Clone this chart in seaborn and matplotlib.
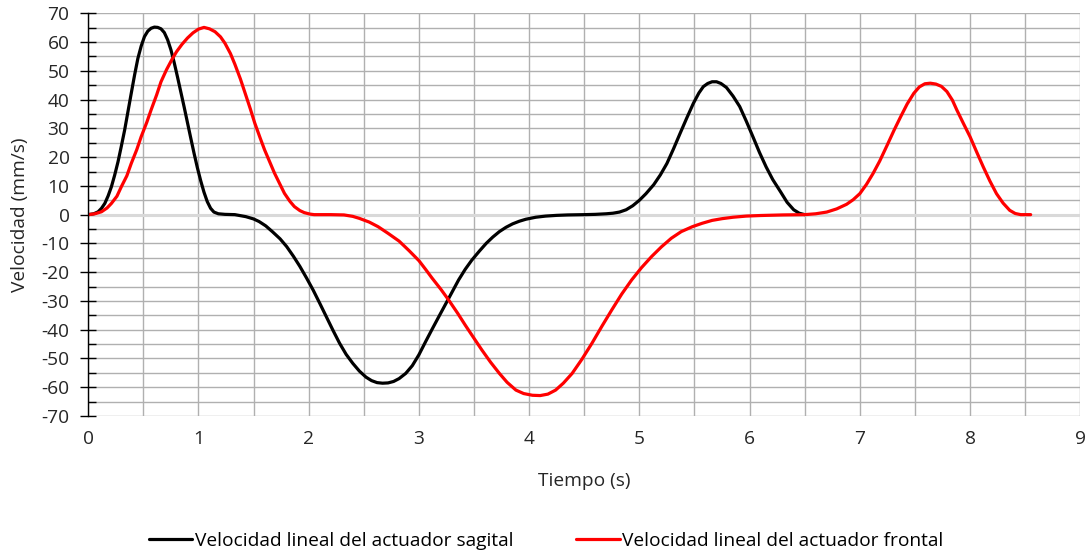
import numpy as np
import pandas as pd
import matplotlib
matplotlib.use("Agg")
import matplotlib.pyplot as plt
import seaborn as sns
from matplotlib.lines import Line2D
from matplotlib.ticker import MultipleLocator

# velocidad lineal del actuador sagital
t_sagital = [0, 0.05, 0.09, 0.12, 0.15, 0.18, 0.21, 0.24, 0.27, 0.30, 0.33, 0.36, 0.39,
             0.42, 0.45, 0.48, 0.51, 0.54, 0.57, 0.60, 0.63, 0.66, 0.69, 0.72, 0.75, 0.78,
             0.81, 0.84, 0.87, 0.90, 0.93, 0.96, 0.99, 1.02, 1.05, 1.08, 1.11, 1.14, 1.18,
             1.24, 1.33, 1.43, 1.50, 1.55, 1.61, 1.67, 1.74, 1.80, 1.86, 1.92, 1.98, 2.04,
             2.10, 2.16, 2.22, 2.28, 2.34, 2.40, 2.46, 2.52, 2.57, 2.62, 2.67, 2.72, 2.77,
             2.82, 2.88, 2.94, 3.00, 3.06, 3.12, 3.18, 3.27, 3.36, 3.42, 3.48, 3.55, 3.61,
             3.67, 3.73, 3.79, 3.85, 3.91, 3.97, 4.06, 4.15, 4.25, 4.35, 4.50, 4.60, 4.70,
             4.76, 4.82, 4.88, 4.94, 5.00, 5.06, 5.13, 5.19, 5.25, 5.31, 5.37, 5.43, 5.49,
             5.54, 5.58, 5.62, 5.66, 5.70, 5.74, 5.79, 5.85, 5.91, 5.97, 6.03, 6.09, 6.15,
             6.21, 6.28, 6.34, 6.40, 6.45, 6.50]
v_sagital = [0, 0.3, 1, 2.2, 3.9, 6.5, 9.7, 13.8, 18.4, 23.8, 29.4, 35.8, 42.2,
             48.5, 54.3, 58.6, 61.9, 63.8, 64.8, 65.2, 65.1, 64.6, 63.3, 60.8, 57.3, 52.8,
             47.8, 42.6, 37.4, 32, 26.6, 21.3, 16.3, 11.8, 7.8, 4.5, 2.2, 0.9, 0.3,
             0.1, 0, -0.7, -1.5, -2.4, -3.9, -5.9, -8.4, -11.1, -14.4, -18, -22, -26.2,
             -30.8, -35.5, -40.2, -44.7, -48.6, -51.7, -54.4, -56.5, -57.7, -58.4, -58.6, -58.5, -58,
             -57, -55.2, -52.5, -48.7, -44.2, -39.8, -35.5, -29.1, -22.7, -19, -15.8, -12.6, -10,
             -7.8, -5.9, -4.4, -3.2, -2.3, -1.6, -0.9, -0.5, -0.25, -0.1, 0, 0.1, 0.3,
             0.5, 0.9, 1.7, 3.1, 5, 7.3, 10.4, 13.8, 17.8, 22.9, 28.3, 33.6, 38.7,
             42.3, 44.5, 45.6, 46.2, 46.2, 45.6, 44.2, 41.2, 37.6, 32.5, 27.1, 21.6, 16.6,
             12.2, 8, 4.3, 1.7, 0.5, 0]

# velocidad lineal del actuador frontal
t_frontal = [0, 0.06, 0.12, 0.17, 0.21, 0.26, 0.30, 0.35, 0.39, 0.44, 0.48, 0.53, 0.57,
             0.62, 0.66, 0.71, 0.76, 0.80, 0.85, 0.90, 0.95, 1.00, 1.05, 1.10, 1.15, 1.20,
             1.24, 1.29, 1.33, 1.38, 1.42, 1.47, 1.51, 1.56, 1.60, 1.65, 1.69, 1.74, 1.78,
             1.83, 1.87, 1.92, 1.96, 2.01, 2.05, 2.20, 2.32, 2.40, 2.46, 2.55, 2.63, 2.72,
             2.82, 2.91, 3.00, 3.06, 3.12, 3.20, 3.27, 3.35, 3.42, 3.50, 3.57, 3.65, 3.73,
             3.80, 3.88, 3.95, 4.03, 4.10, 4.17, 4.24, 4.31, 4.39, 4.48, 4.57, 4.66, 4.75,
             4.84, 4.93, 5.02, 5.11, 5.20, 5.29, 5.38, 5.48, 5.57, 5.66, 5.75, 5.85, 5.97,
             6.10, 6.30, 6.50, 6.60, 6.70, 6.79, 6.88, 6.94, 7.00, 7.06, 7.12, 7.18, 7.25,
             7.31, 7.37, 7.43, 7.49, 7.54, 7.59, 7.64, 7.69, 7.74, 7.79, 7.84, 7.88, 7.94,
             8.00, 8.06, 8.12, 8.18, 8.24, 8.30, 8.36, 8.41, 8.46, 8.55]
v_frontal = [0, 0.3, 1, 2.3, 3.9, 6.4, 9.7, 13.5, 17.8, 22.6, 27.1, 32, 36.4,
             41.6, 46.2, 50.4, 54, 56.6, 59.2, 61.4, 63.2, 64.5, 65.1, 64.6, 63.6, 61.8,
             59.6, 56, 52.3, 47.2, 42.6, 36.8, 31.9, 26.6, 22.5, 18, 14.4, 10.5, 7.4,
             4.6, 2.8, 1.4, 0.7, 0.2, 0, 0, -0.1, -0.6, -1.3, -2.6, -4.2, -6.5,
             -9.2, -12.5, -16, -19, -22.1, -26, -29.7, -34.2, -38.4, -43, -47, -51.3, -55.2,
             -58.3, -61, -62.2, -62.8, -62.9, -62.4, -61, -58.6, -55.2, -50.2, -44.7, -38.8, -33.1,
             -27.6, -22.7, -18.4, -14.6, -11.2, -8.2, -5.9, -4.2, -3, -2, -1.4, -0.9, -0.5,
             -0.3, -0.1, 0, 0.3, 0.9, 2, 3.6, 5.2, 7.3, 10.5, 14.3, 18.6, 24.3,
             29.3, 34, 38.5, 42.2, 44.4, 45.5, 45.7, 45.4, 44.6, 42.8, 39.8, 36.4, 31.7,
             27.1, 21.8, 16.6, 11.7, 7.3, 4, 1.5, 0.4, 0, 0]

serie_sagital = "Velocidad lineal del actuador sagital"
serie_frontal = "Velocidad lineal del actuador frontal"

df = pd.concat([
    pd.DataFrame({"Tiempo": t_sagital, "Velocidad": v_sagital, "Serie": serie_sagital}),
    pd.DataFrame({"Tiempo": t_frontal, "Velocidad": v_frontal, "Serie": serie_frontal}),
])

sns.set_theme(style="white")
plt.rcParams["font.family"] = ["Open Sans", "DejaVu Sans"]
plt.rcParams["text.color"] = "#000000"
plt.rcParams["axes.unicode_minus"] = False

fig = plt.figure(figsize=(10.87, 5.52), dpi=100)
ax = fig.add_axes([0.0812, 0.2464, 0.9126, 0.7295])

colores = {serie_sagital: "#000000", serie_frontal: "#FF0000"}
sns.lineplot(data=df, x="Tiempo", y="Velocidad", hue="Serie", palette=colores,
             estimator=None, linewidth=2.3, legend=False, ax=ax, zorder=3)
for linea in ax.lines:
    linea.set_solid_joinstyle("round")
    linea.set_solid_capstyle("round")

ax.set_xlim(0, 9)
ax.set_ylim(-70, 70)
ax.xaxis.set_major_locator(MultipleLocator(1))
ax.xaxis.set_minor_locator(MultipleLocator(0.5))
ax.yaxis.set_major_locator(MultipleLocator(10))
ax.yaxis.set_minor_locator(MultipleLocator(5))
ax.grid(which="both", color="#B0B0B0", linewidth=1.0)
ax.axhline(0, color="#D9D9D9", linewidth=2.2, zorder=2)

for lado in ["top", "right", "bottom"]:
    ax.spines[lado].set_visible(False)
ax.spines["left"].set_color("#000000")
ax.spines["left"].set_linewidth(1.0)
ax.spines["left"].set_zorder(4)

tam = 13.8
ax.tick_params(axis="y", which="major", direction="inout", length=11, width=1,
               color="#000000", labelsize=tam, pad=8, left=True)
ax.tick_params(axis="y", which="minor", direction="in", length=6, width=1,
               color="#000000", left=True)
ax.tick_params(axis="x", which="both", length=0, labelsize=tam, pad=10)

ax.set_xlabel("Tiempo (s)", fontsize=tam)
ax.set_ylabel("Velocidad (mm/s)", fontsize=tam)
ax.xaxis.set_label_coords(0.5, -0.14)
ax.yaxis.set_label_coords(-0.06, 0.5)

handles = [Line2D([], [], color="#000000", linewidth=2.3),
           Line2D([], [], color="#FF0000", linewidth=2.3)]
fig.legend(handles, [serie_sagital, serie_frontal], loc="center", ncol=2,
           bbox_to_anchor=(0.5025, 0.02), frameon=False, fontsize=tam,
           handlelength=2.25, handletextpad=0.12, columnspacing=3.3)

fig.savefig("out.png", dpi=100, facecolor="white")
